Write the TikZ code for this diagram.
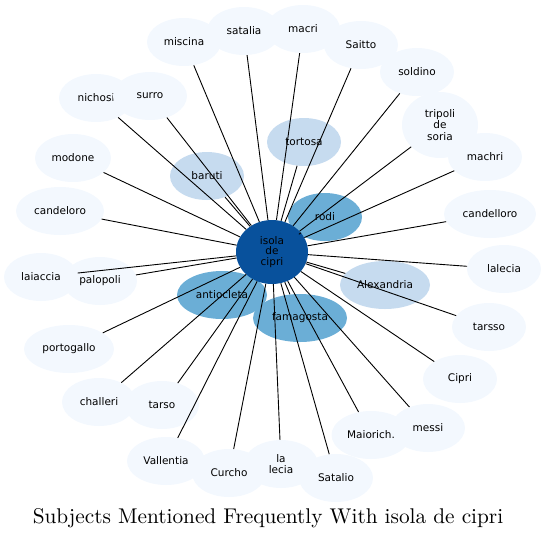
\documentclass[tikz,border=0pt]{standalone}
\usepackage{fontspec}
\newfontfamily\nodefont{DejaVu Sans}
\newfontfamily\titlefont{lmroman10-regular}[Extension=.otf]
\usetikzlibrary{shapes.geometric}
\definecolor{lt}{HTML}{F3F8FE}
\definecolor{ml}{HTML}{C6DBEF}
\definecolor{md}{HTML}{6BAED6}
\definecolor{dk}{HTML}{08519C}
\begin{document}
\begin{tikzpicture}[x=1pt,y=-1pt,
  nd/.style={ellipse, inner sep=0pt, minimum width=74pt, minimum height=48pt,
    font=\nodefont\fontsize{10.5}{11.5}\selectfont, align=center, fill=lt},
  ndm/.style={nd, fill=ml},
  ndd/.style={nd, fill=md},
  ctr/.style={nd, fill=dk, minimum width=72pt, minimum height=64pt,
    font=\nodefont\fontsize{10.5}{10.5}\selectfont},
  edge/.style={draw=black, line width=0.9pt}]
\useasboundingbox (0,0) rectangle (545,539);
% light nodes
\node[nd] (miscina) at (184,42) {miscina};
\node[nd] (satalia) at (244,31) {satalia};
\node[nd] (macri) at (303,29) {macri};
\node[nd] (saitto) at (361,45) {Saitto};
\node[nd] (soldino) at (417,72) {soldino};
\node[nd, minimum width=76pt, minimum height=66pt] (tripoli) at (440,125) {tripoli\\de\\soria};
\node[nd] (machri) at (485,157) {machri};
\node[nd, minimum width=92pt] (candelloro) at (490,214) {candelloro};
\node[nd] (lalecia) at (504,269) {lalecia};
\node[nd] (tarsso) at (489,327) {tarsso};
\node[nd] (cipri) at (460,379) {Cipri};
\node[nd] (messi) at (428,428) {messi};
\node[nd, minimum width=79pt] (maiorich) at (371,435) {Maiorich.};
\node[nd] (lalecia2) at (281,464) {la\\lecia};
\node[nd] (satalio) at (336,478) {Satalio};
\node[nd] (curcho) at (229,473) {Curcho};
\node[nd, minimum width=78pt] (vallentia) at (166,461) {Vallentia};
\node[nd] (challeri) at (99,402) {challeri};
\node[nd] (tarso) at (162,405) {tarso};
\node[nd, minimum width=90pt] (portogallo) at (69,349) {portogallo};
\node[nd] (laiaccia) at (41,277) {laiaccia};
\node[nd] (palopoli) at (100,281) {palopoli};
\node[nd, minimum width=88pt] (candeloro) at (60,211) {candeloro};
\node[nd, minimum width=76pt] (modone) at (73,158) {modone};
\node[nd] (nichosi) at (96,98) {nichosi};
\node[nd] (surro) at (150,96) {surro};
% medium-light nodes
\node[ndm] (baruti) at (207,176) {baruti};
\node[ndm] (tortosa) at (304,142) {tortosa};
\node[ndm, minimum width=90pt] (alexandria) at (385,285) {Alexandria};
% medium nodes
\node[ndd] (rodi) at (325,217) {rodi};
\node[ndd, minimum width=90pt] (antiocleta) at (222,295) {antiocleta};
\node[ndd, minimum width=94pt] (famagosta) at (300,318) {famagosta};
% centre
\node[ctr] (c) at (272,252) {isola\\de\\cipri};
% edges
\foreach \n in {miscina,satalia,macri,saitto,soldino,tripoli,machri,candelloro,
  lalecia,tarsso,cipri,messi,maiorich,lalecia2,satalio,curcho,vallentia,challeri,
  tarso,portogallo,laiaccia,palopoli,candeloro,modone,nichosi,surro,baruti,
  tortosa,alexandria,rodi,antiocleta,famagosta}
  \draw[edge] (c) -- (\n);
% title
\node[font=\titlefont\fontsize{21.3}{25}\selectfont] (title) at (268,518) {Subjects Mentioned Frequently With isola de cipri};
\end{tikzpicture}
\end{document}
